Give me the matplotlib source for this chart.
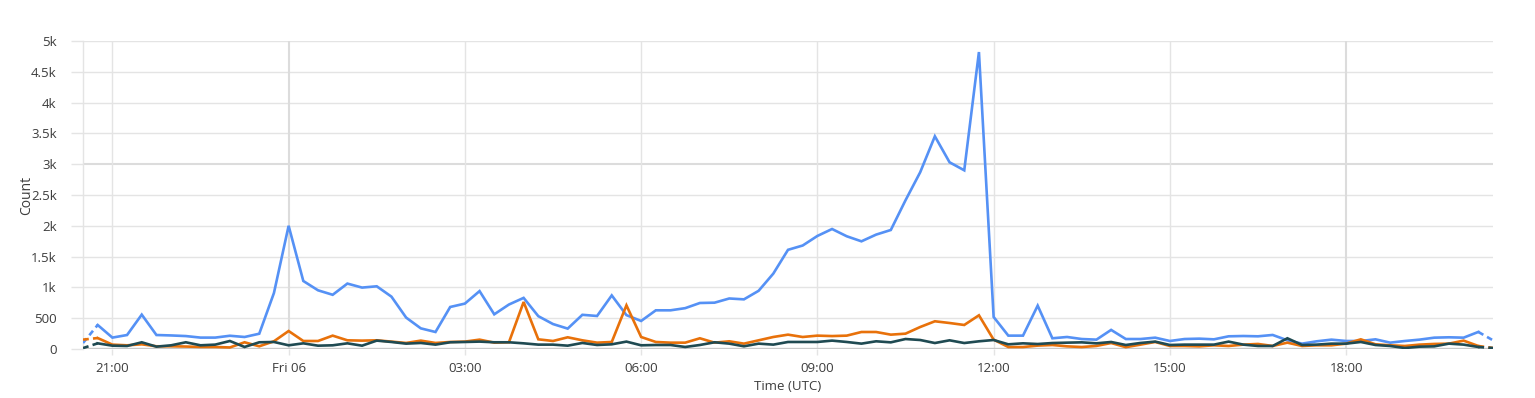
import numpy as np
import pandas as pd
import matplotlib
matplotlib.use("Agg")
import matplotlib.pyplot as plt
import matplotlib.dates as mdates

plt.rcParams["font.family"] = ["Open Sans", "DejaVu Sans"]

# 15-minute buckets, Thu 20:45 -> Fri 20:15 (UTC)
START = "2024-09-05 20:45"
EDGE_LEFT = "2024-09-05 20:30"
EDGE_RIGHT = "2024-09-06 20:30"

blue_vals = [390, 185, 227, 558, 227, 220, 210, 185, 185, 215, 195, 248, 909, 2000,
             1104, 953, 880, 1062, 997, 1018, 850, 510, 335, 276, 682, 737, 940, 563,
             722, 830, 533, 405, 331, 555, 536, 870, 550, 455, 628, 628, 663, 747, 752,
             820, 806, 945, 1224, 1610, 1680, 1835, 1948, 1830, 1748, 1857, 1932, 2414,
             2869, 3453, 3031, 2901, 4821, 520, 217, 217, 704, 174, 195, 162, 152, 310,
             162, 162, 184, 130, 162, 168, 157, 206, 211, 206, 228, 141, 87, 125, 152,
             130, 130, 157, 103, 130, 152, 184, 190, 184, 277]
orange_vals = [178, 71, 60, 76, 44, 44, 40, 33, 33, 25, 109, 44, 125, 292, 130, 130,
               217, 141, 136, 141, 120, 98, 136, 98, 114, 120, 152, 103, 109, 763, 157,
               130, 190, 141, 103, 114, 709, 195, 114, 103, 103, 174, 103, 125, 87, 141,
               195, 233, 195, 217, 210, 217, 276, 276, 233, 249, 357, 450, 422, 390, 547,
               152, 32, 32, 55, 65, 43, 32, 50, 97, 30, 71, 114, 49, 49, 43, 60, 49, 71,
               82, 49, 103, 49, 60, 60, 87, 157, 76, 60, 49, 71, 82, 87, 136, 49]
dark_vals = [92, 54, 49, 109, 38, 60, 109, 60, 71, 130, 33, 109, 114, 60, 92, 54, 60,
             92, 54, 136, 114, 87, 98, 71, 109, 114, 120, 109, 109, 92, 71, 71, 54, 98,
             65, 76, 120, 60, 65, 65, 33, 65, 109, 87, 44, 87, 71, 114, 114, 114, 136,
             114, 87, 125, 108, 162, 146, 97, 141, 97, 125, 146, 76, 92, 81, 97, 103, 108,
             92, 114, 65, 98, 120, 65, 71, 71, 71, 120, 71, 49, 49, 174, 65, 71, 87, 87,
             114, 65, 49, 16, 38, 43, 87, 71, 33]

# partial buckets at both ends (drawn dashed)
blue_edges = [97, 141]
orange_edges = [152, 16]
dark_edges = [15, 16]

SERIES_COLORS = ["#5591f5", "#e8710a", "#1f4a52"]

YTICKS = [0, 500, 1000, 1500, 2000, 2500, 3000, 3500, 4000, 4500, 5000]
YTICK_LABELS = ["0", "500", "1k", "1.5k", "2k", "2.5k", "3k", "3.5k", "4k", "4.5k", "5k"]
XTICKS = ["2024-09-05 21:00", "2024-09-06 00:00", "2024-09-06 03:00", "2024-09-06 06:00",
          "2024-09-06 09:00", "2024-09-06 12:00", "2024-09-06 15:00", "2024-09-06 18:00"]
XTICK_LABELS = ["21:00", "Fri 06", "03:00", "06:00", "09:00", "12:00", "15:00", "18:00"]

times = pd.date_range(START, periods=len(blue_vals), freq="15min")
t_left = pd.Timestamp(EDGE_LEFT)
t_right = pd.Timestamp(EDGE_RIGHT)

fig = plt.figure(figsize=(15.35, 3.98), dpi=100)
ax = fig.add_axes([83 / 1535, 1 - 349 / 398, 1410 / 1535, 308 / 398])

GRID = "#e4e4e4"
STRONG = "#dcdcdc"
for y in YTICKS:
    if y == 0:
        continue
    ax.axhline(y, color=STRONG if y == 3000 else GRID,
               lw=1.5 if y == 3000 else 1.0, zorder=0)
for t, lab in zip(XTICKS, XTICK_LABELS):
    thick = lab in ("Fri 06", "18:00")
    ax.axvline(pd.Timestamp(t), color=STRONG if thick else GRID,
               lw=1.5 if thick else 1.0, zorder=0)

for vals, edges, col in zip([blue_vals, orange_vals, dark_vals],
                            [blue_edges, orange_edges, dark_edges], SERIES_COLORS):
    ax.plot(times, vals, color=col, lw=1.9, solid_joinstyle="miter", zorder=3)
    ax.plot([t_left, times[0]], [edges[0], vals[0]], color=col, lw=1.9,
            ls=(0, (2.2, 1.6)), zorder=3)
    ax.plot([times[-1], t_right], [vals[-1], edges[1]], color=col, lw=1.9,
            ls=(0, (2.2, 1.6)), zorder=3)

ax.axhline(0, color="#c8c8c8", lw=2.4, zorder=2)

ax.set_xlim(t_left, t_right)
ax.set_ylim(0, 5000)
ax.set_yticks(YTICKS)
ax.set_yticklabels(YTICK_LABELS)
ax.set_xticks([mdates.date2num(pd.Timestamp(t)) for t in XTICKS])
ax.set_xticklabels(XTICK_LABELS)

for s in ["top", "right", "bottom"]:
    ax.spines[s].set_visible(False)
ax.spines["left"].set_color(GRID)
ax.spines["left"].set_linewidth(1.0)

ax.tick_params(axis="y", length=9, color=GRID, width=1.0, pad=10,
               labelsize=9.5, labelcolor="#3c3c3c")
ax.tick_params(axis="x", length=4, color=GRID, width=1.0, pad=5,
               labelsize=9.5, labelcolor="#3c3c3c")

ax.set_xlabel("Time (UTC)", fontsize=9.5, color="#3c3c3c", labelpad=4)
ax.set_ylabel("Count", fontsize=10, color="#3c3c3c", labelpad=-2)

fig.savefig("out.png", dpi=100)
